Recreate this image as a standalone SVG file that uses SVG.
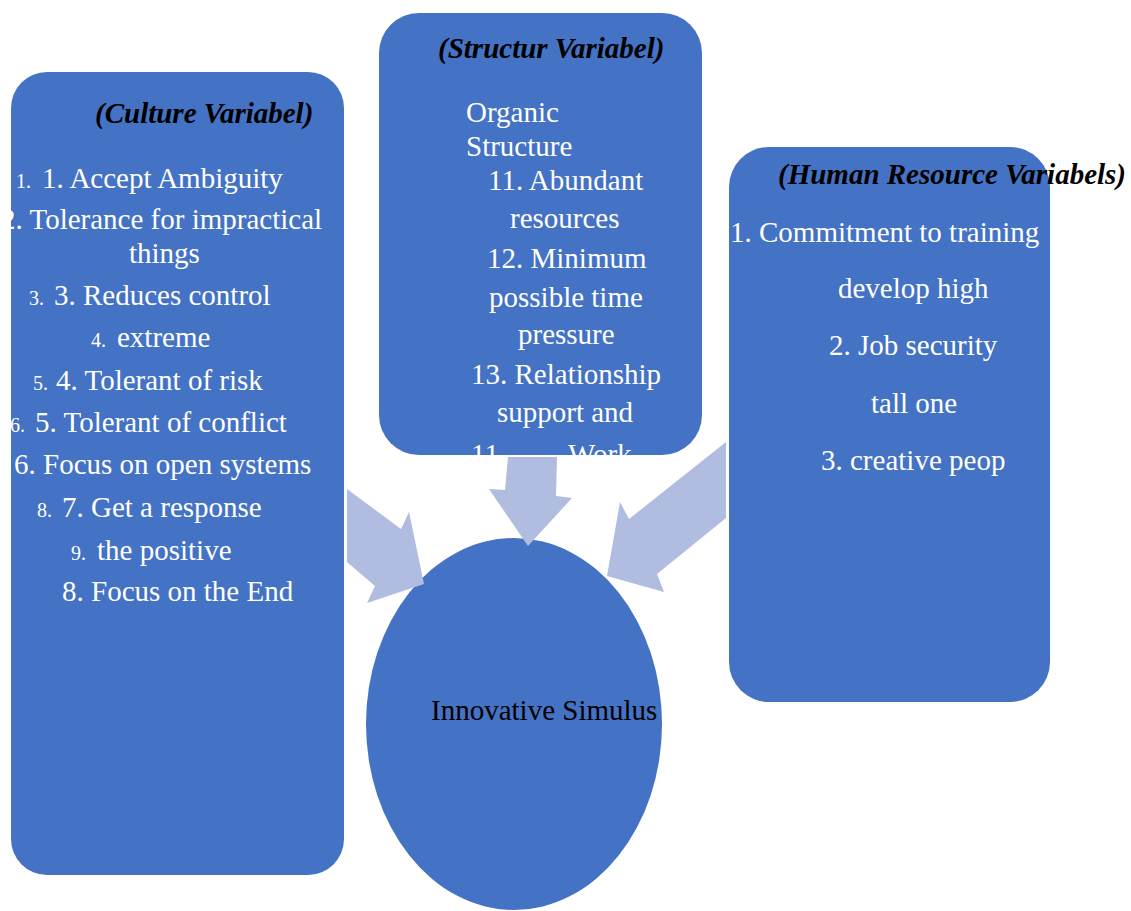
<svg xmlns="http://www.w3.org/2000/svg" width="1131" height="911" viewBox="0 0 1131 911">
<style>
.box{fill:#4472C4}
.arr{fill:#B0BDE0}
.t{font-family:"Liberation Serif","Times New Roman",serif;font-size:29px;fill:#FFFFFF}
.s{font-family:"Liberation Serif","Times New Roman",serif;font-size:20px;fill:#FFFFFF}
.h{font-family:"Liberation Serif","Times New Roman",serif;font-size:29px;font-weight:bold;font-style:italic;fill:#000000}
.c{font-family:"Liberation Serif","Times New Roman",serif;font-size:29px;fill:#000000}
</style>
<defs>
<clipPath id="clipL"><rect x="11" y="72" width="333" height="803" rx="36"/></clipPath>
<clipPath id="clipS"><rect x="379" y="13" width="323" height="442" rx="40"/></clipPath>
<clipPath id="clipH"><rect x="729" y="147" width="321" height="555" rx="40"/></clipPath>
</defs>
<rect width="1131" height="911" fill="#FFFFFF"/>

<g id="culture">
<rect class="box" x="11" y="72" width="333" height="803" rx="36"/>
<g clip-path="url(#clipL)">
<text class="s" x="16" y="188">1.</text><text class="t" x="42" y="188">1. Accept Ambiguity</text>
<text class="t" x="1" y="229">2. Tolerance for impractical</text>
<text class="t" x="129" y="263">things</text>
<text class="s" x="29" y="305">3.</text><text class="t" x="54" y="305">3. Reduces control</text>
<text class="s" x="91" y="347">4.</text><text class="t" x="117" y="347">extreme</text>
<text class="s" x="33" y="390">5.</text><text class="t" x="56" y="390">4. Tolerant of risk</text>
<text class="s" x="10" y="432">6.</text><text class="t" x="35" y="432">5. Tolerant of conflict</text>
<text class="t" x="14" y="474">6. Focus on open systems</text>
<text class="s" x="37" y="517">8.</text><text class="t" x="62" y="517">7. Get a response</text>
<text class="s" x="71" y="560">9.</text><text class="t" x="97" y="560">the positive</text>
<text class="t" x="62" y="601">8. Focus on the End</text>
</g>
<text class="h" x="95" y="123">(Culture Variabel)</text>
</g>

<g id="structure">
<rect class="box" x="379" y="13" width="323" height="442" rx="40"/>
<g clip-path="url(#clipS)">
<text class="t" x="466" y="122">Organic</text>
<text class="t" x="466" y="156">Structure</text>
<text class="t" x="488" y="190">11. Abundant</text>
<text class="t" x="510" y="228">resources</text>
<text class="t" x="487" y="268">12. Minimum</text>
<text class="t" x="489" y="307">possible time</text>
<text class="t" x="518" y="344">pressure</text>
<text class="t" x="471" y="384">13. Relationship</text>
<text class="t" x="497" y="422">support and</text>
<text class="t" x="471" y="464">11.</text><text class="t" x="568" y="464">Work</text>
</g>
<text class="h" x="438" y="58">(Structur Variabel)</text>
</g>

<g id="human">
<rect class="box" x="729" y="147" width="321" height="555" rx="40"/>
<g clip-path="url(#clipH)">
<text class="t" x="730" y="242">1. Commitment to training</text>
<text class="t" x="838" y="298">develop high</text>
<text class="t" x="829" y="355">2. Job security</text>
<text class="t" x="871" y="413">tall one</text>
<text class="t" x="821" y="470">3. creative peop</text>
</g>
<text class="h" x="778" y="184">(Human Resource Variabels)</text>
</g>

<g id="innovative">
<ellipse class="box" cx="514" cy="724" rx="148" ry="186"/>
<text class="c" x="431" y="720">Innovative Simulus</text>
</g>

<g id="connectors">
<polygon class="arr" points="347,489 401,529 409,512 424,584 367,603 375,586 347,562"/>
<polygon class="arr" points="508,457 557,457 556,496 572,498 528,546 489,489 505,490"/>
<polygon class="arr" points="726,442 726,518 657,574 664,592 607,576 620,502 629,519"/>
</g>
</svg>
